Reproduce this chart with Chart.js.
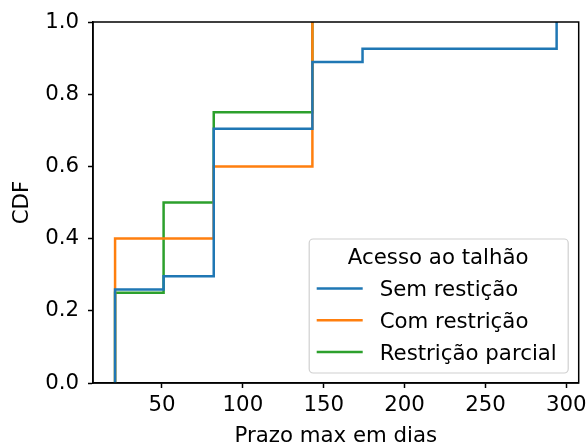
<!DOCTYPE html>
<html>
<head>
<meta charset="utf-8">
<script src="https://cdn.jsdelivr.net/npm/chart.js@4.4.1/dist/chart.umd.min.js"></script>
<style>
  html, body { margin: 0; padding: 0; background: #fff; }
  #c { display: block; }
</style>
</head>
<body>
<canvas id="c" width="587" height="448"></canvas>
<script>
// Empirical CDF steps: day where each step occurs and the cumulative proportion reached there
const semRestricaoDias = [21, 51, 82, 143, 174, 294];
const semRestricaoCdf  = [0.259, 0.296, 0.704, 0.889, 0.926, 1.0];
const comRestricaoDias = [21, 82, 143];
const comRestricaoCdf  = [0.4, 0.6, 1.0];
const parcialDias      = [21, 51, 82, 143];
const parcialCdf       = [0.25, 0.5, 0.75, 1.0];

const seriesLabels = ['Sem restição', 'Com restrição', 'Restrição parcial'];
const seriesColors = ['#1f77b4', '#ff7f0e', '#2ca02c'];
const legendTitle  = 'Acesso ao talhão';
const xTicks = [50, 100, 150, 200, 250, 300];
const yTicks = [0, 0.2, 0.4, 0.6, 0.8, 1.0];
const xTitle = 'Prazo max em dias';
const yTitle = 'CDF';

const FONT_FAMILY = "'DejaVu Sans', sans-serif";
const FONT_SIZE = 21.3;

// Step series start at zero on the first observation
function stepPoints(dias, cdf) {
  return [{ x: dias[0], y: 0 }].concat(dias.map((d, i) => ({ x: d, y: cdf[i] })));
}

const allDias = semRestricaoDias.concat(comRestricaoDias, parcialDias);
const dMin = Math.min(...allDias), dMax = Math.max(...allDias);
const margin = (dMax - dMin) * 0.05;

const datasets = [
  [semRestricaoDias, semRestricaoCdf],
  [comRestricaoDias, comRestricaoCdf],
  [parcialDias, parcialCdf]
].map(([d, c], i) => ({
  label: seriesLabels[i],
  data: stepPoints(d, c),
  borderColor: seriesColors[i],
  backgroundColor: seriesColors[i],
  borderWidth: 2.5,
  stepped: 'before',
  fill: false,
  pointRadius: 0,
  borderCapStyle: 'butt',
  borderJoinStyle: 'miter'
}));

// Frame on all four sides of the plot area
const framePlugin = {
  id: 'frame',
  afterDatasetsDraw(chart) {
    const { ctx, chartArea: a } = chart;
    ctx.save();
    ctx.strokeStyle = '#000';
    ctx.lineWidth = 1.5;
    ctx.strokeRect(a.left, a.top, a.right - a.left, a.bottom - a.top);
    ctx.restore();
  }
};

// Legend box with title, drawn in the lower-right corner of the plot area
const boxLegendPlugin = {
  id: 'boxLegend',
  afterDraw(chart) {
    const { ctx, chartArea: a } = chart;
    const w = 259, h = 134;
    const x = a.right - 11 - w, y = a.bottom - 10.5 - h;
    ctx.save();
    ctx.beginPath();
    ctx.roundRect(x + 0.5, y + 0.5, w, h, 4);
    ctx.fillStyle = 'rgba(255,255,255,0.8)';
    ctx.fill();
    ctx.strokeStyle = '#d0d0d0';
    ctx.lineWidth = 1.2;
    ctx.stroke();

    ctx.font = FONT_SIZE + 'px ' + FONT_FAMILY;
    ctx.fillStyle = '#000';
    ctx.textBaseline = 'alphabetic';
    ctx.textAlign = 'center';
    ctx.fillText(legendTitle, x + w / 2, y + 25.5);

    ctx.textAlign = 'left';
    chart.data.datasets.forEach((ds, i) => {
      const ly = y + 50 + i * 31.7;
      ctx.strokeStyle = ds.borderColor;
      ctx.lineWidth = 2.5;
      ctx.beginPath();
      ctx.moveTo(x + 8, ly);
      ctx.lineTo(x + 54, ly);
      ctx.stroke();
      ctx.fillText(ds.label, x + 71, ly + 7.9);
    });
    ctx.restore();
  }
};

const axisFont = { family: FONT_FAMILY, size: FONT_SIZE, lineHeight: 1.2 };
const tickGrid = {
  display: true,
  drawOnChartArea: false,
  drawTicks: true,
  tickLength: 5,
  tickColor: '#000',
  tickWidth: 1.5
};

new Chart(document.getElementById('c'), {
  type: 'line',
  data: { datasets },
  options: {
    responsive: false,
    devicePixelRatio: 1,
    animation: false,
    layout: { padding: { top: 22, right: 8.3, left: 0, bottom: 0 } },
    plugins: { legend: { display: false }, tooltip: { enabled: false } },
    scales: {
      x: {
        type: 'linear',
        min: dMin - margin,
        max: dMax + margin,
        afterBuildTicks: s => { s.ticks = xTicks.map(v => ({ value: v })); },
        afterFit: s => { s.height = 65; s.paddingLeft = 0; s.paddingRight = 0; },
        ticks: { font: axisFont, color: '#000', padding: 5, maxRotation: 0,
                 callback: v => String(v) },
        grid: tickGrid,
        border: { display: true, color: '#000', width: 1.5 },
        title: { display: true, text: xTitle, font: axisFont, color: '#000',
                 padding: { top: 0, bottom: -1 } }
      },
      y: {
        type: 'linear',
        min: 0,
        max: 1,
        afterBuildTicks: s => { s.ticks = yTicks.map(v => ({ value: v })); },
        afterFit: s => { s.width = 93; s.paddingTop = 0; s.paddingBottom = 0; },
        ticks: { font: axisFont, color: '#000', padding: 9,
                 callback: v => Number(v).toFixed(1) },
        grid: tickGrid,
        border: { display: true, color: '#000', width: 1.5 },
        title: { display: true, text: yTitle, font: axisFont, color: '#000',
                 padding: { top: 10, bottom: 0 } }
      }
    }
  },
  plugins: [framePlugin, boxLegendPlugin]
});
</script>
</body>
</html>
